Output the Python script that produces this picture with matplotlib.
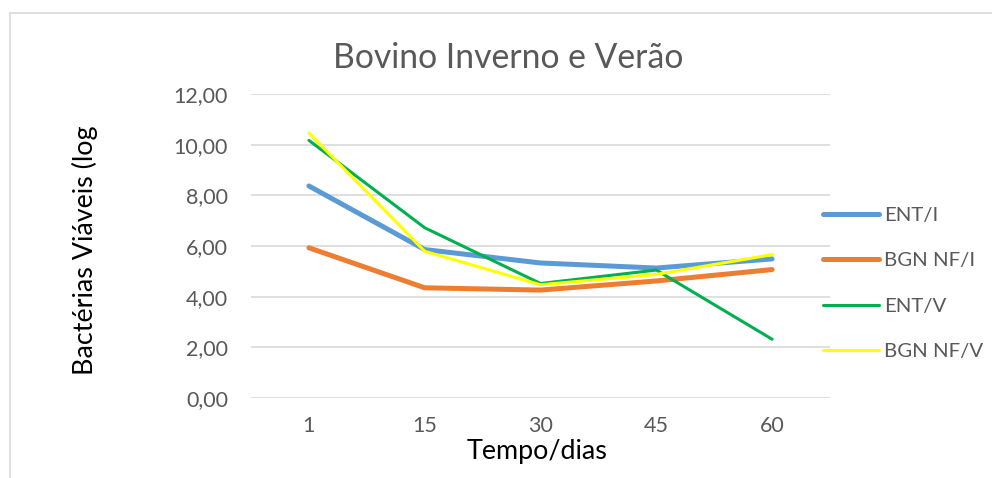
import matplotlib.pyplot as plt
from matplotlib.patches import Rectangle
from matplotlib.ticker import FuncFormatter

# dados
dias = ["1", "15", "30", "45", "60"]
ent_i = [8.37, 5.86, 5.33, 5.13, 5.49]
bgn_i = [5.93, 4.35, 4.26, 4.62, 5.07]
ent_v = [10.17, 6.72, 4.52, 5.05, 2.32]
bgn_v = [10.46, 5.79, 4.47, 4.88, 5.66]

series = [
    ("ENT/I", ent_i, "#5B9BD5", 3.6),
    ("BGN NF/I", bgn_i, "#ED7D31", 3.6),
    ("ENT/V", ent_v, "#00B050", 2.2),
    ("BGN NF/V", bgn_v, "#FFFF00", 2.2),
]

plt.rcParams['font.family'] = ['Lato', 'DejaVu Sans']
W, H = 992, 478
fig = plt.figure(figsize=(W / 100, H / 100), dpi=100)

# moldura do gráfico (só esquerda e topo visíveis)
fig.patches.append(Rectangle((10 / W, -0.1), 1.2, (H - 13) / H + 0.1,
                             transform=fig.transFigure, fill=False,
                             edgecolor="#D9D9D9", lw=1.2))

ax = fig.add_axes([251 / W, 80 / H, (830 - 251) / W, (398 - 94) / H])
x = list(range(1, len(dias) + 1))
for nome, vals, cor, lw in series:
    ax.plot(x, vals, color=cor, lw=lw, label=nome,
            solid_capstyle="round", solid_joinstyle="round")

ax.set_xlim(0.5, len(dias) + 0.5)
ax.set_ylim(0, 12)
ax.set_yticks([0, 2, 4, 6, 8, 10, 12])
ax.yaxis.set_major_formatter(FuncFormatter(lambda v, p: f"{v:.2f}".replace(".", ",")))
ax.set_xticks(x)
ax.set_xticklabels(dias)
ax.grid(axis="y", color="#D9D9D9", lw=1.2)
ax.set_axisbelow(True)
for s in ax.spines.values():
    s.set_visible(False)
ax.tick_params(length=0, labelsize=15.5, labelcolor="#595959")
ax.tick_params(axis="y", pad=16.5)
ax.tick_params(axis="x", pad=13)

fig.text(508 / W, 1 - 58 / H, "Bovino Inverno e Verão", ha="center", va="center",
         fontsize=24.3, color="#595959")
fig.text(537 / W, 1 - 451 / H, "Tempo/dias", ha="center", va="center",
         fontsize=19.4, color="black")
fig.text(85 / W, 1 - 250 / H, "Bactérias Viáveis (log", ha="center", va="center",
         rotation=90, fontsize=19.4, color="black")

ax.legend(loc="center left", bbox_to_anchor=(0.957, 0.377), frameon=False,
          fontsize=14.7, labelcolor="#595959", handlelength=2.7,
          handletextpad=0.25, labelspacing=1.38)

fig.savefig("out.png", dpi=100)
